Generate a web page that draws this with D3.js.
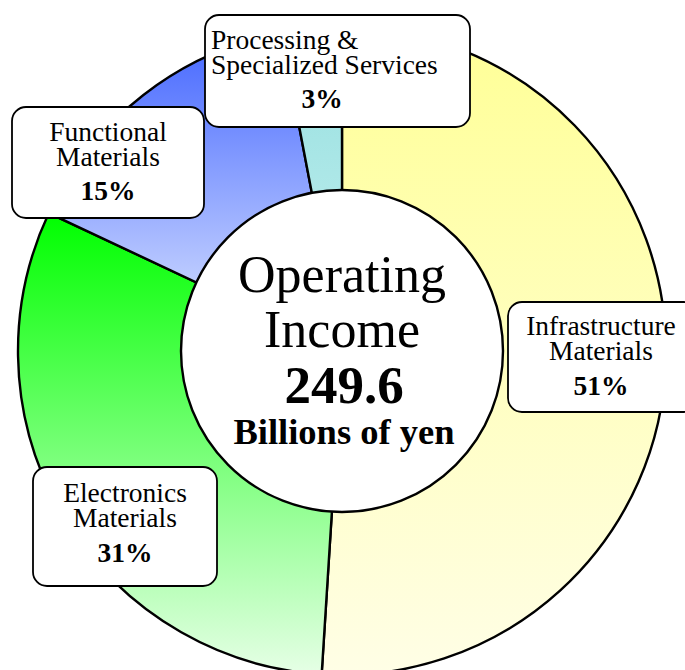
<!DOCTYPE html>
<html>
<head>
<meta charset="utf-8">
<script src="https://cdn.jsdelivr.net/npm/d3@7"></script>
<style>
  html, body { margin: 0; padding: 0; background: #fff; }
  svg { display: block; }
  text { font-family: "Liberation Serif", "Times New Roman", serif; fill: #000; }
</style>
</head>
<body>
<svg id="chart" width="685" height="670"></svg>
<script>
// Operating income by segment (share of total, %)
const segments = ["Infrastructure Materials", "Electronics Materials", "Functional Materials", "Processing & Specialized Services"];
const shares = [51, 31, 15, 3];
const labelLines = [
  ["Infrastructure", "Materials"],
  ["Electronics", "Materials"],
  ["Functional", "Materials"],
  ["Processing &", "Specialized Services"]
];
const totalIncome = "249.6";
const totalUnit = "Billions of yen";
const centerTitle = ["Operating", "Income"];

// Gradient stops (top, bottom) for each segment
const gradientStops = [
  ["#ffff96", "#fffee6"],
  ["#00ff00", "#e6ffe6"],
  ["#4466ff", "#dfe8ff"],
  ["#94dede", "#c8f2f2"]
];

const svg = d3.select("#chart");
const cx = 342, cy = 351;
const outerR = 324, innerR = 161;

const defs = svg.append("defs");
gradientStops.forEach((stops, i) => {
  const g = defs.append("linearGradient")
    .attr("id", "grad" + i)
    .attr("x1", 0).attr("y1", 0).attr("x2", 0).attr("y2", 1);
  g.append("stop").attr("offset", "0%").attr("stop-color", stops[0]);
  g.append("stop").attr("offset", "100%").attr("stop-color", stops[1]);
});

const pie = d3.pie().sort(null).value(d => d);
const arcs = pie(shares);
const arc = d3.arc().innerRadius(0).outerRadius(outerR);

const ring = svg.append("g").attr("transform", `translate(${cx},${cy})`);
ring.selectAll("path.slice")
  .data(arcs)
  .join("path")
  .attr("class", "slice")
  .attr("d", arc)
  .attr("fill", (d, i) => `url(#grad${i})`)
  .attr("stroke", "#000")
  .attr("stroke-width", 2.4)
  .attr("stroke-linejoin", "round");

// Center disc
ring.append("circle")
  .attr("r", innerR)
  .attr("fill", "#fff")
  .attr("stroke", "#000")
  .attr("stroke-width", 2.4);

const center = svg.append("g").attr("text-anchor", "middle");
center.append("text").attr("x", cx).attr("y", 292)
  .attr("font-size", 52).text(centerTitle[0]);
center.append("text").attr("x", cx).attr("y", 347)
  .attr("font-size", 52).text(centerTitle[1]);
center.append("text").attr("x", cx + 2).attr("y", 403)
  .attr("font-size", 53).attr("font-weight", "bold").text(totalIncome);
center.append("text").attr("x", cx + 2).attr("y", 444)
  .attr("font-size", 36.5).attr("font-weight", "bold").text(totalUnit);

// Callout boxes for each segment
const boxes = [
  { x: 508, y: 302, w: 190, h: 110, tx: 601, align: "middle", base: 335, pctBase: 395 },
  { x: 33, y: 467, w: 184, h: 119, tx: 125, align: "middle", base: 502, pctBase: 562 },
  { x: 12, y: 107, w: 192, h: 111, tx: 108, align: "middle", base: 141, pctBase: 200 },
  { x: 205, y: 15, w: 265, h: 112, tx: 211, align: "start", base: 49, pctBase: 108, pctX: 322 }
];
const lineGap = 25;

const callouts = svg.selectAll("g.callout")
  .data(arcs)
  .join("g")
  .attr("class", "callout");

callouts.append("rect")
  .attr("x", (d, i) => boxes[i].x)
  .attr("y", (d, i) => boxes[i].y)
  .attr("width", (d, i) => boxes[i].w)
  .attr("height", (d, i) => boxes[i].h)
  .attr("rx", 14).attr("ry", 14)
  .attr("fill", "#fff")
  .attr("stroke", "#000")
  .attr("stroke-width", 1.8);

callouts.each(function (d, i) {
  const g = d3.select(this);
  const b = boxes[i];
  labelLines[i].forEach((line, k) => {
    g.append("text")
      .attr("x", b.tx)
      .attr("y", b.base + k * lineGap)
      .attr("text-anchor", b.align)
      .attr("font-size", 27.5)
      .text(line);
  });
  g.append("text")
    .attr("x", b.pctX !== undefined ? b.pctX : b.tx)
    .attr("y", b.pctBase)
    .attr("text-anchor", "middle")
    .attr("font-size", 27.5)
    .attr("font-weight", "bold")
    .text(d.data + "%");
});
</script>
</body>
</html>
